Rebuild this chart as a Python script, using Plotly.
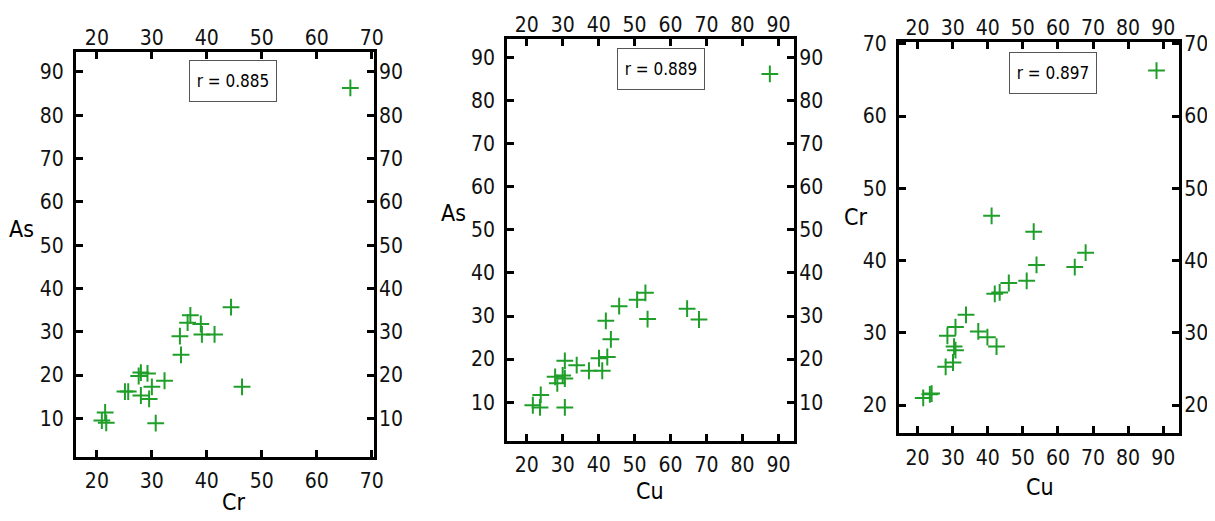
import plotly.graph_objects as go

# ---------------- data ----------------
cr1 = [66.1, 44.4, 37.0, 36.5, 38.9, 35.1, 39.1, 41.4, 35.3, 28.0, 27.6, 29.2, 32.3, 30.0, 46.4, 25.1, 25.7, 28.0, 29.5, 21.5, 20.9, 21.7, 30.7]
as1 = [86.3, 35.7, 33.8, 32.1, 31.8, 29.0, 29.4, 29.4, 24.7, 20.6, 19.8, 20.4, 18.7, 17.3, 17.3, 16.2, 16.2, 15.3, 14.5, 11.4, 9.5, 9.0, 8.9]

cu2 = [87.6, 53.0, 50.7, 45.7, 42.0, 53.6, 64.6, 67.9, 43.4, 40.1, 42.4, 30.6, 33.9, 37.3, 41.0, 27.9, 30.0, 30.6, 28.5, 23.9, 21.7, 23.7, 30.6]
as2 = [86.2, 35.4, 33.8, 32.3, 28.9, 29.3, 31.7, 29.2, 24.6, 20.2, 20.5, 19.6, 18.6, 17.3, 17.3, 15.9, 16.2, 15.5, 14.4, 11.7, 9.3, 8.8, 8.8]

cu3 = [88.1, 41.1, 53.1, 67.9, 53.9, 64.8, 51.1, 46.0, 43.4, 42.0, 33.8, 30.8, 28.5, 37.3, 39.9, 42.5, 30.4, 30.8, 30.1, 28.0, 21.6, 23.5, 24.0]
cr3 = [66.3, 46.2, 44.0, 41.1, 39.4, 39.1, 37.2, 36.9, 35.6, 35.4, 32.5, 30.8, 29.6, 30.2, 29.4, 28.1, 28.1, 27.6, 25.9, 25.3, 21.0, 21.5, 21.6]

xticks1 = [20, 30, 40, 50, 60, 70]
yticks1 = [10, 20, 30, 40, 50, 60, 70, 80, 90]
xticks2 = [20, 30, 40, 50, 60, 70, 80, 90]
yticks2 = [10, 20, 30, 40, 50, 60, 70, 80, 90]
xticks3 = [20, 30, 40, 50, 60, 70, 80, 90]
yticks3 = [20, 30, 40, 50, 60, 70]

r_labels = ["r = 0.885", "r = 0.889", "r = 0.897"]
xtitles = ["Cr", "Cu", "Cu"]
ytitles = ["As", "As", "Cr"]

# ---------------- layout helpers ----------------
W, H = 1215, 521
OFF = 8  # page body margin offset
FONT = "Liberation Sans Narrow, DejaVu Sans Condensed, Arial Narrow, sans-serif"
GREEN = "#1f9e2a"

def px(x):
    return (x - OFF) / W

def py(y):
    return 1 - (y - OFF) / H

panels = [
    dict(xs=cr1, ys=as1, xt=xticks1, yt=yticks1, xr=[16.2, 70.4], yr=[1.1, 94.6],
         box=(76, 374, 52, 457)),
    dict(xs=cu2, ys=as2, xt=xticks2, yt=yticks2, xr=[14.6, 94.4], yr=[1.0, 94.3],
         box=(507.3, 794.3, 39, 441)),
    dict(xs=cu3, ys=cr3, xt=xticks3, yt=yticks3, xr=[14.7, 94.6], yr=[16.1, 70.3],
         box=(899, 1179.3, 41.7, 433.3)),
]

fig = go.Figure()
layout = dict(
    width=W, height=H,
    margin=dict(l=0, r=0, t=0, b=0, autoexpand=False),
    paper_bgcolor="white", plot_bgcolor="white",
    showlegend=False,
    font=dict(family=FONT, color="black", size=21),
)

tickfont = dict(family=FONT, size=21, color="#111111")

for i, p in enumerate(panels):
    n = i + 1
    sfx = "" if n == 1 else str(n)
    xa, ya = f"x{sfx}", f"y{sfx}"
    l, r, t, b = p["box"]
    fig.add_trace(go.Scatter(
        x=p["xs"], y=p["ys"], mode="markers", xaxis=xa, yaxis=ya,
        marker=dict(symbol="cross-thin", size=12, line=dict(width=2, color=GREEN), color=GREEN),
        hoverinfo="x+y",
    ))
    common = dict(showgrid=False, zeroline=False, tickfont=tickfont, automargin=False)
    layout[f"xaxis{sfx}"] = dict(
        domain=[px(l), px(r)], range=p["xr"], anchor=ya, side="bottom",
        tickmode="array", tickvals=p["xt"], ticktext=[str(v) for v in p["xt"]],
        showline=True, linecolor="black", linewidth=3, mirror="ticks",
        ticks="inside", ticklen=7, tickwidth=3, tickcolor="black",
        ticklabelstandoff=3, **common)
    layout[f"yaxis{sfx}"] = dict(
        domain=[py(b), py(t)], range=p["yr"], anchor=xa, side="left",
        tickmode="array", tickvals=p["yt"], ticktext=[str(v) for v in p["yt"]],
        showline=True, linecolor="black", linewidth=3, mirror="ticks",
        ticks="inside", ticklen=7, tickwidth=3, tickcolor="black",
        ticklabelstandoff=5, **common)
    # overlay axes for labels on top and right
    layout[f"xaxis{n + 3}"] = dict(
        overlaying=xa, range=p["xr"], anchor=ya, side="top",
        tickmode="array", tickvals=p["xt"], ticktext=[str(v) for v in p["xt"]],
        showline=False, ticks="", ticklabelstandoff=2, **common)
    layout[f"yaxis{n + 3}"] = dict(
        overlaying=ya, range=p["yr"], anchor=xa, side="right",
        tickmode="array", tickvals=p["yt"], ticktext=[str(v) for v in p["yt"]],
        showline=False, ticks="", ticklabelstandoff=4, **common)
    # invisible traces to activate overlay axes
    fig.add_trace(go.Scatter(x=[p["xr"][0]], y=[p["yr"][0]], mode="markers",
                             xaxis=f"x{n + 3}", yaxis=f"y{n + 3}",
                             marker=dict(opacity=0), hoverinfo="skip"))

fig.update_layout(**layout)

# r boxes
rboxes = [(233, 81), (660.5, 68.5), (1052.5, 73)]
for (cx, cy), txt in zip(rboxes, r_labels):
    fig.add_annotation(
        x=px(cx), y=py(cy), xref="paper", yref="paper", text=txt, showarrow=False,
        font=dict(family=FONT, size=17, color="black"),
        bordercolor="#555555", borderwidth=1, borderpad=0,
        width=86, height=40, bgcolor="white", xanchor="center", yanchor="middle",
    )

# axis titles
ytitle_pos = [(21, 229), (453, 213), (855, 217)]
xtitle_pos = [(233, 502), (650, 491), (1040, 487)]
for (cx, cy), txt in zip(ytitle_pos, ytitles):
    fig.add_annotation(x=px(cx), y=py(cy), xref="paper", yref="paper", text=txt,
                       showarrow=False, font=dict(family=FONT, size=23, color="black"),
                       xanchor="center", yanchor="middle")
for (cx, cy), txt in zip(xtitle_pos, xtitles):
    fig.add_annotation(x=px(cx), y=py(cy), xref="paper", yref="paper", text=txt,
                       showarrow=False, font=dict(family=FONT, size=23, color="black"),
                       xanchor="center", yanchor="middle")

fig.write_html("out.html")
